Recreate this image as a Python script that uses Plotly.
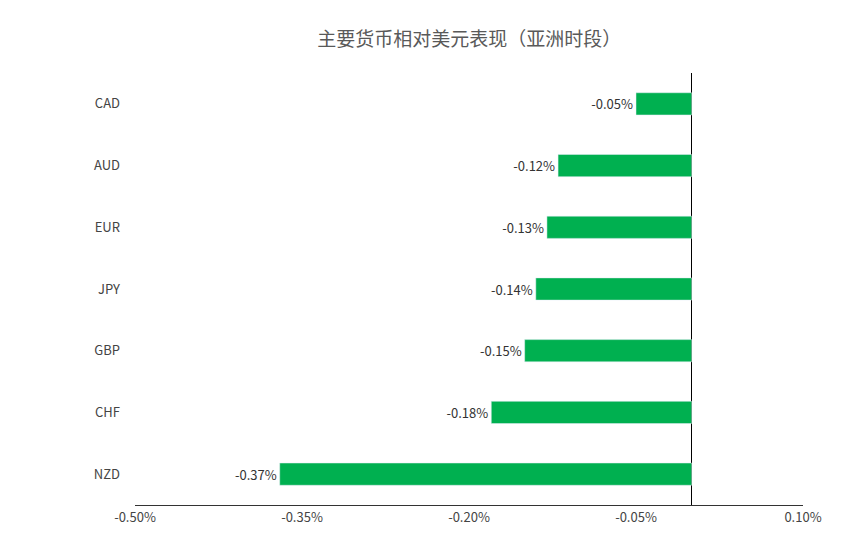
import plotly.graph_objects as go

currencies = ["NZD", "CHF", "GBP", "JPY", "EUR", "AUD", "CAD"]
values = [-0.37, -0.18, -0.15, -0.14, -0.13, -0.12, -0.05]
labels = ["-0.37%", "-0.18%", "-0.15%", "-0.14%", "-0.13%", "-0.12%", "-0.05%"]
tick_vals = [-0.50, -0.35, -0.20, -0.05, 0.10]
tick_text = ["-0.50%", "-0.35%", "-0.20%", "-0.05%", "0.10%"]

fig = go.Figure(go.Bar(
    y=currencies, x=values, orientation="h",
    marker_color="#00B050", text=labels, textposition="outside",
    textfont=dict(size=13, color="#333333"), cliponaxis=False,
))
fig.update_layout(
    width=862, height=548,
    margin=dict(l=127, r=67, t=65, b=51),
    paper_bgcolor="white", plot_bgcolor="white",
    font=dict(family="Noto Sans CJK SC, Liberation Sans, sans-serif", size=13, color="#444444"),
    title=dict(text="主要货币相对美元表现（亚洲时段）", x=0.535, y=0.955, xanchor="center",
               font=dict(size=19, color="#595959")),
    bargap=0.64, showlegend=False,
)
fig.update_xaxes(range=[-0.5, 0.1], tickvals=tick_vals, ticktext=tick_text,
                 showgrid=False, zeroline=True, zerolinecolor="black", zerolinewidth=1,
                 showline=True, linecolor="#333333", ticks="", tickfont=dict(size=13, color="#444444"))
fig.update_yaxes(showgrid=False, ticks="", ticklabelstandoff=14, tickfont=dict(size=13, color="#444444"))
fig.write_html("out.html")
